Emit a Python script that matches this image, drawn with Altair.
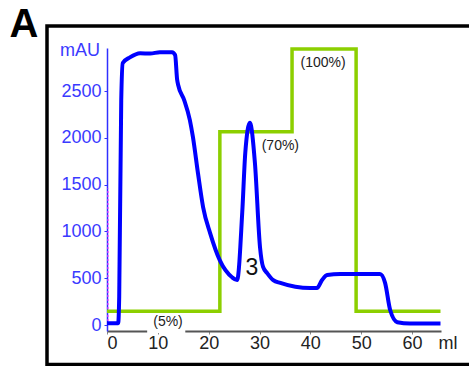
import altair as alt
import pandas as pd

# Blue UV trace (mAU) vs volume (ml)
ml_blue = [0, 2.2, 2.4, 2.8, 3.1, 4.5, 6.5, 8.5, 10.4, 12.8, 13.4, 13.8, 14.0, 15.2, 16.3,
           16.9, 17.9, 18.9, 20.3, 22.2, 24.6, 25.6, 26.6, 27.2, 28.1, 29.1, 30.1, 30.7,
           31.5, 32.7, 34.1, 40.0, 41.3, 42.3, 43.3, 45.9, 53.7, 54.7, 55.7, 57.1, 59.6, 65.6]
mau_blue = [20, 20, 300, 2400, 2800, 2860, 2905, 2900, 2915, 2915, 2885, 2620, 2565, 2400, 2190,
            2010, 1620, 1260, 980, 690, 510, 480, 1200, 1840, 2160, 1730, 830, 620,
            555, 480, 450, 395, 395, 480, 535, 545, 545, 450, 160, 30, 15, 15]

# Green gradient (% B) step profile
ml_grad = [0, 22.2, 36.4, 49.0, 65.6]
pct_grad = [5, 70, 100, 5, 5]

# Annotations
ann_text = ["(5%)", "(70%)", "(100%)"]
ann_ml = [12.0, 34.1, 42.5]
ann_mau = [32, 1912, 2800]

x_ticks = list(range(0, 66, 5))
y_ticks = list(range(0, 2751, 250))

XD = [0, 65.7]
YD = [-64, 2960]

xs = alt.Scale(domain=XD, nice=False, zero=False)
ys = alt.Scale(domain=YD, nice=False, zero=False)

FONT = "Liberation Sans"

blue_df = pd.DataFrame({"ml": ml_blue, "mau": mau_blue})
grad_df = pd.DataFrame({"ml": ml_grad, "pct": pct_grad})
ann_df = pd.DataFrame({"t": ann_text, "ml": ann_ml, "mau": ann_mau})

x_axis = alt.Axis(values=x_ticks, labelExpr="datum.value % 10 == 0 ? datum.label : ''",
                  title=None, grid=False, domainColor="#555555", domainWidth=2,
                  tickColor="#888888", tickSize=3, labelPadding=0, labelFontSize=18,
                  labelColor="#222222", labelFont=FONT)
y_axis = alt.Axis(values=y_ticks, labelExpr="datum.value % 500 == 0 ? datum.label : ''",
                  title=None, grid=False, domainColor="#3030ff", domainWidth=1.5,
                  tickColor="#3030ff", tickSize=3, labelPadding=3, labelFontSize=18,
                  labelColor="#3a3aff", labelFont=FONT, format="d")

# outer frame and panel letter (decoration)
frame = alt.Chart(pd.DataFrame({"a": [0]})).mark_rect(
    fill=None, stroke="black", strokeWidth=3.5
).encode(x=alt.value(-60), x2=alt.value(420), y=alt.value(-22), y2=alt.value(316.5))

letter = alt.Chart(pd.DataFrame({"t": ["A"]})).mark_text(
    fontSize=40, fontWeight="bold", font=FONT, color="black", align="center", baseline="middle"
).encode(x=alt.value(-83), y=alt.value(-23), text="t:N")

pink = alt.Chart(pd.DataFrame({"ml": [0.2], "y1": [0], "y2": [1460]})).mark_rule(
    color="#ff40ff", strokeDash=[2, 2], strokeWidth=1.2
).encode(x=alt.X("ml:Q", scale=xs, axis=x_axis),
         y=alt.Y("y1:Q", scale=ys, axis=y_axis), y2="y2:Q")

gap = alt.Chart(pd.DataFrame({"x1": [7.9], "x2": [15.4], "y1": [-85], "y2": [75]})).mark_rect(
    fill="white"
).encode(x=alt.X("x1:Q", scale=xs), x2="x2:Q", y=alt.Y("y1:Q", scale=ys), y2="y2:Q")

green = alt.Chart(grad_df).transform_calculate(mau="datum.pct * 29.49").mark_line(
    color="#8ccf00", strokeWidth=3.5, interpolate="step-after"
).encode(x=alt.X("ml:Q", scale=xs), y=alt.Y("mau:Q", scale=ys))

blue = alt.Chart(blue_df).mark_line(
    color="#0000ff", strokeWidth=4, interpolate="monotone"
).encode(x=alt.X("ml:Q", scale=xs), y=alt.Y("mau:Q", scale=ys))

ann = alt.Chart(ann_df).mark_text(
    fontSize=14, font=FONT, color="#222222", align="center", baseline="middle"
).encode(x=alt.X("ml:Q", scale=xs), y=alt.Y("mau:Q", scale=ys), text="t:N")

three = alt.Chart(pd.DataFrame({"t": ["3"], "ml": [28.5], "mau": [610]})).mark_text(
    fontSize=23, font=FONT, color="#111111", align="center", baseline="middle"
).encode(x=alt.X("ml:Q", scale=xs), y=alt.Y("mau:Q", scale=ys), text="t:N")

mau_lbl = alt.Chart(pd.DataFrame({"t": ["mAU"], "mau": [2927]})).mark_text(
    fontSize=18, font=FONT, color="#3a3aff", align="right", baseline="middle"
).encode(x=alt.value(-7), y=alt.Y("mau:Q", scale=ys), text="t:N")

ml_lbl = alt.Chart(pd.DataFrame({"t": ["ml"]})).mark_text(
    fontSize=18, font=FONT, color="#222222", align="center", baseline="middle"
).encode(x=alt.value(341), y=alt.value(296), text="t:N")

chart = alt.layer(pink, gap, green, blue, ann, three, mau_lbl, ml_lbl, frame, letter).properties(
    width=334, height=283,
    autosize=alt.AutoSizeParams(type="none"),
    padding={"left": 107, "top": 48, "right": 28, "bottom": 35},
    background="white",
).configure_view(strokeWidth=0)

chart.save("out.html", embed_options={"renderer": "svg", "actions": False})
